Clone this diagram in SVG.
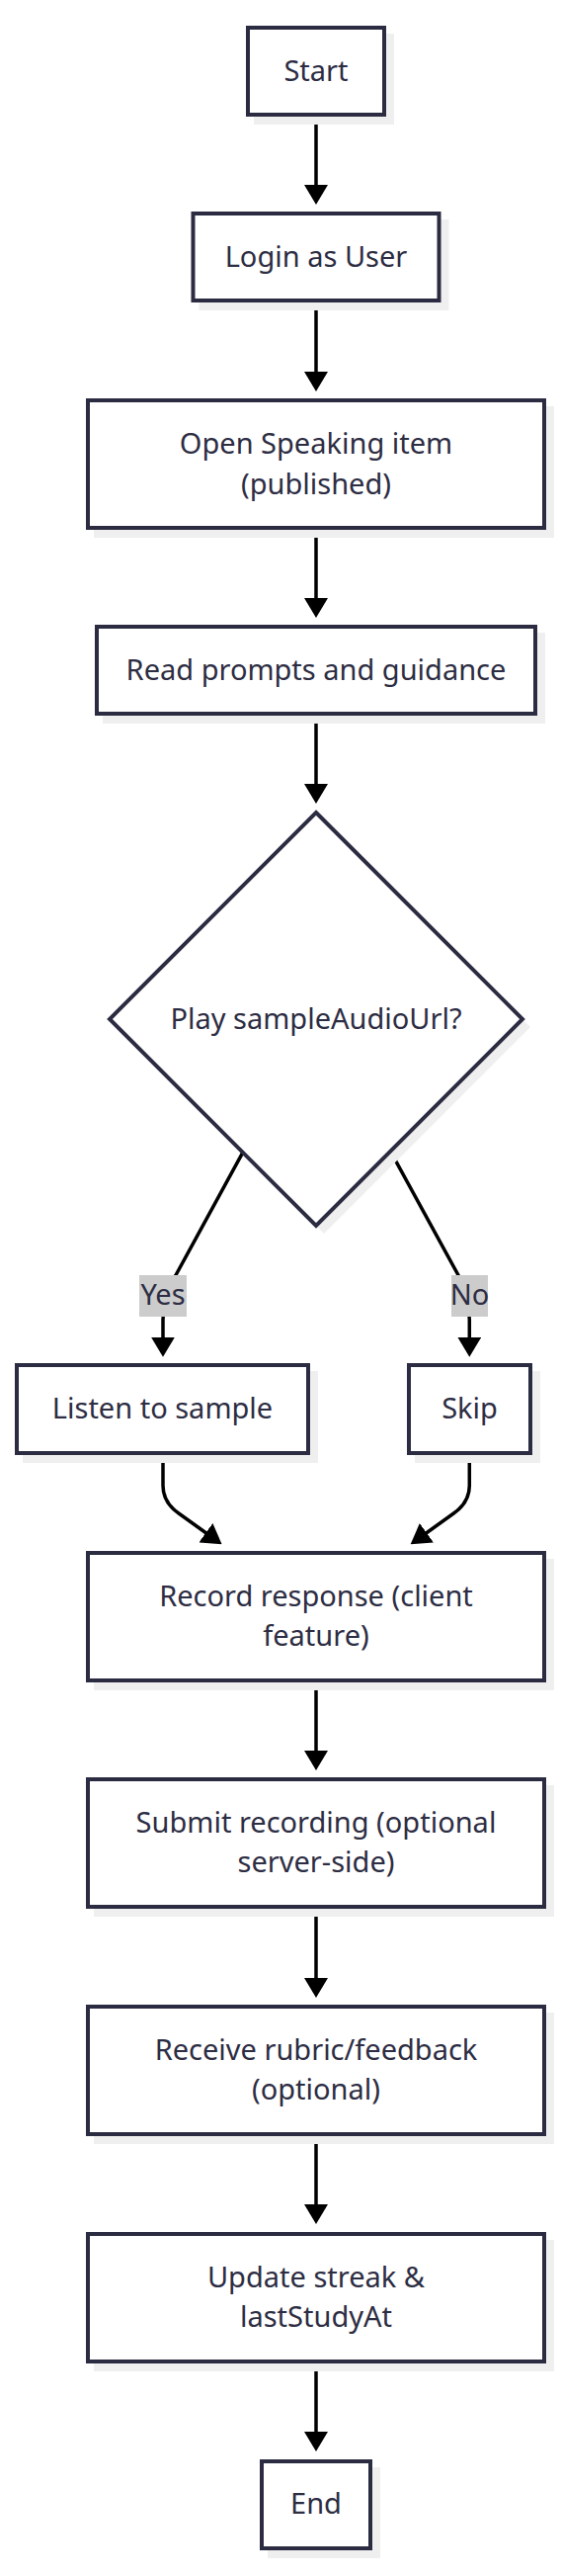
<svg xmlns="http://www.w3.org/2000/svg" width="568" height="2606" viewBox="0 0 568 2606">
<style>
.box{fill:#ffffff;stroke:#2b2b41;stroke-width:4}
.shd{fill:#efefef;stroke:none}
.t{font-family:"Noto Sans","Open Sans",sans-serif;font-size:29px;fill:#2d2d43;text-anchor:middle}
.edge{fill:none;stroke:#000000;stroke-width:3.5}
.lbl{fill:#cccccc}
</style>
<defs>
<marker id="arr" viewBox="0 0 20 24" refX="10" refY="12" markerWidth="20" markerHeight="24" markerUnits="userSpaceOnUse" orient="auto">
<path d="M0,0 L20,12 L0,24 z" fill="#000000"/>
</marker>
</defs>
<rect width="568" height="2606" fill="#ffffff"/>

<g id="edges">
<path class="edge" d="M320,118 L320,197" marker-end="url(#arr)"/>
<path class="edge" d="M320,306 L320,386" marker-end="url(#arr)"/>
<path class="edge" d="M320,536 L320,615" marker-end="url(#arr)"/>
<path class="edge" d="M320,724 L320,803" marker-end="url(#arr)"/>
<path class="edge" d="M245.4,1166.7 L178,1290 Q165,1312 165,1335 L165,1362.7" marker-end="url(#arr)"/>
<path class="edge" d="M396.4,1166.7 L464,1290 Q475.3,1312 475.3,1335 L475.3,1362.7" marker-end="url(#arr)"/>
<path class="edge" d="M165,1472 L165,1503 Q165,1520 181,1531 L216.5,1556.5" marker-end="url(#arr)"/>
<path class="edge" d="M475.3,1472 L475.3,1503 Q475.3,1520 459.3,1531 L423.8,1556.5" marker-end="url(#arr)"/>
<path class="edge" d="M320,1702 L320,1781" marker-end="url(#arr)"/>
<path class="edge" d="M320,1931 L320,2011" marker-end="url(#arr)"/>
<path class="edge" d="M320,2161 L320,2240" marker-end="url(#arr)"/>
<path class="edge" d="M320,2391 L320,2470" marker-end="url(#arr)"/>
<g id="label-yes">
<rect class="lbl" x="141" y="1290" width="48" height="42"/>
<text class="t" x="165" y="1320">Yes</text>
</g>
<g id="label-no">
<rect class="lbl" x="457" y="1290" width="37" height="42"/>
<text class="t" x="475.5" y="1320">No</text>
</g>
</g>

<g id="start">
<rect class="shd" x="257" y="34" width="142" height="92"/>
<rect class="box" x="251" y="28" width="138" height="88"/>
<text class="t" x="320" y="82">Start</text>
</g>

<g id="login">
<rect class="shd" x="201.5" y="222" width="253" height="92"/>
<rect class="box" x="195.5" y="216" width="249" height="88"/>
<text class="t" x="320" y="270">Login as User</text>
</g>

<g id="open">
<rect class="shd" x="95" y="411" width="466" height="133"/>
<rect class="box" x="89" y="405" width="462" height="129"/>
<text class="t" x="320" y="459">Open Speaking item</text>
<text class="t" x="320" y="499.5">(published)</text>
</g>

<g id="read">
<rect class="shd" x="104" y="640" width="448" height="92"/>
<rect class="box" x="98" y="634" width="444" height="88"/>
<text class="t" x="320" y="688">Read prompts and guidance</text>
</g>

<g id="decision">
<polygon class="shd" points="328,830 537,1039 328,1248 119,1039"/>
<polygon class="box" points="320,822 529,1031 320,1240 111,1031"/>
<text class="t" x="320" y="1041">Play sampleAudioUrl?</text>
</g>

<g id="listen">
<rect class="shd" x="23" y="1387" width="299" height="93"/>
<rect class="box" x="17" y="1381" width="295" height="89"/>
<text class="t" x="164.5" y="1435">Listen to sample</text>
</g>

<g id="skip">
<rect class="shd" x="420" y="1387" width="127" height="93"/>
<rect class="box" x="414" y="1381" width="123" height="89"/>
<text class="t" x="475.5" y="1435">Skip</text>
</g>

<g id="record">
<rect class="shd" x="95" y="1577" width="466" height="133"/>
<rect class="box" x="89" y="1571" width="462" height="129"/>
<text class="t" x="320" y="1624.5">Record response (client</text>
<text class="t" x="320" y="1665">feature)</text>
</g>

<g id="submit">
<rect class="shd" x="95" y="1806" width="466" height="133"/>
<rect class="box" x="89" y="1800" width="462" height="129"/>
<text class="t" x="320" y="1853.5">Submit recording (optional</text>
<text class="t" x="320" y="1894">server-side)</text>
</g>

<g id="receive">
<rect class="shd" x="95" y="2036" width="466" height="133"/>
<rect class="box" x="89" y="2030" width="462" height="129"/>
<text class="t" x="320" y="2083.5">Receive rubric/feedback</text>
<text class="t" x="320" y="2124">(optional)</text>
</g>

<g id="update">
<rect class="shd" x="95" y="2266" width="466" height="133"/>
<rect class="box" x="89" y="2260" width="462" height="129"/>
<text class="t" x="320" y="2313.5">Update streak &amp;</text>
<text class="t" x="320" y="2354">lastStudyAt</text>
</g>

<g id="end">
<rect class="shd" x="271" y="2496" width="114" height="92"/>
<rect class="box" x="265" y="2490" width="110" height="88"/>
<text class="t" x="320" y="2542.5">End</text>
</g>
</svg>
